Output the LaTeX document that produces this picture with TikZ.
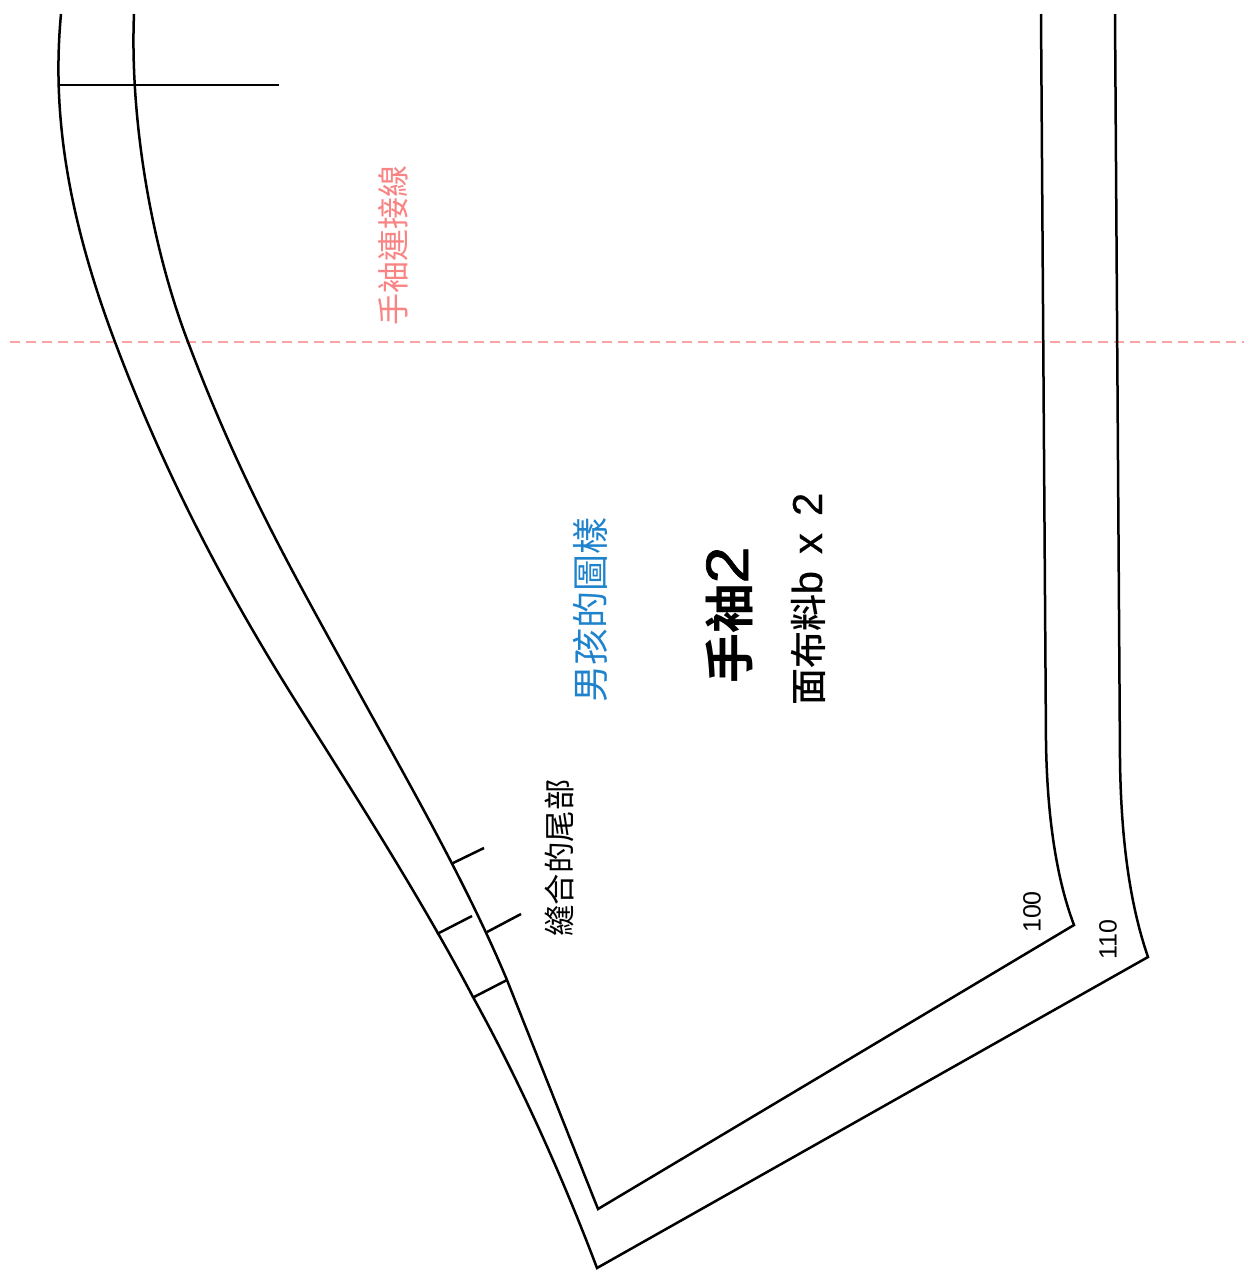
\documentclass[tikz,border=0pt]{standalone}
\usepackage{fontspec}
\setmainfont{Liberation Sans}
\newfontfamily\cjk{Noto Sans CJK TC}
\newfontfamily\cjkm{Noto Sans CJK TC Medium}
\newfontfamily\cjkb{Noto Sans CJK TC Bold}
\newfontfamily\latb[FakeBold=1.2,FakeStretch=1.12]{Liberation Sans}
\newfontfamily\latm[FakeBold=0.4]{Liberation Sans}
\definecolor{pinkline}{HTML}{FCA4A4}
\definecolor{pinktext}{HTML}{F88484}
\definecolor{bluetext}{HTML}{1E82CC}
\tikzset{
  pat/.style={draw=black,line width=1.25pt,line join=miter},
  tick/.style={draw=black,line width=1.25pt},
  lab/.style={inner sep=0pt,rotate=90,anchor=center,black},
  guide/.style={draw=pinkline,line width=0.75pt,dash pattern=on 5pt off 3pt},
}
\begin{document}
\begin{tikzpicture}[x=0.5pt,y=-0.5pt]
\useasboundingbox (0,0) rectangle (1244,1270);
\draw[guide] (10,342) -- (1244,342);
% outer outline
\draw[pat] (61,14)
  .. controls (52,110) and (66,212) .. (115,342)
  .. controls (164,472) and (224,588) .. (300,708)
  .. controls (360,803) and (423,902) .. (473,997)
  .. controls (520,1082) and (563,1178) .. (597,1268)
  -- (1148,957)
  .. controls (1130,905) and (1121,840) .. (1120,760)
  -- (1115,14);
% inner outline
\draw[pat] (134,14)
  .. controls (130,110) and (148,237) .. (188,342)
  .. controls (241,482) and (291.5,570) .. (352,680)
  .. controls (407,780) and (465,880) .. (507,980)
  -- (598,1209)
  -- (1074,925)
  .. controls (1055,875) and (1047,810) .. (1046,742)
  -- (1041,14);
% marks
\draw[tick] (58,85) -- (279,85);
\draw[tick] (451,864) -- (484,848);
\draw[tick] (487,932) -- (521,914);
\draw[tick] (437,934) -- (472,916);
\draw[tick] (474,997) -- (507,980);
% labels
\node[lab,text=pinktext,font=\cjk\fontsize{16}{16}\selectfont] (join) at (393,245) {手袖連接線};
\node[lab,text=bluetext,font=\cjk\fontsize{18.5}{18.5}\selectfont] (boy) at (590,610) {男孩的圖樣};
\node[lab,font=\cjk\fontsize{15.7}{16}\selectfont] (tail) at (559,858) {縫合的尾部};
\node[lab,font=\fontsize{30}{30}\selectfont] (title) at (729,615) {{\cjkb\fontsize{25}{25}\selectfont 手袖}{\latb 2}};
\node[lab,font=\fontsize{21}{21}\selectfont] (fabric) at (808,599) {{\cjkm\fontsize{18.5}{18.5}\selectfont 面布料}{\latm\spaceskip=8.5pt b x 2}};
\node[lab,font=\fontsize{12.5}{12.5}\selectfont] (s100) at (1032,912) {100};
\node[lab,font=\fontsize{12.5}{12.5}\selectfont] (s110) at (1108,940) {110};
\end{tikzpicture}
\end{document}
